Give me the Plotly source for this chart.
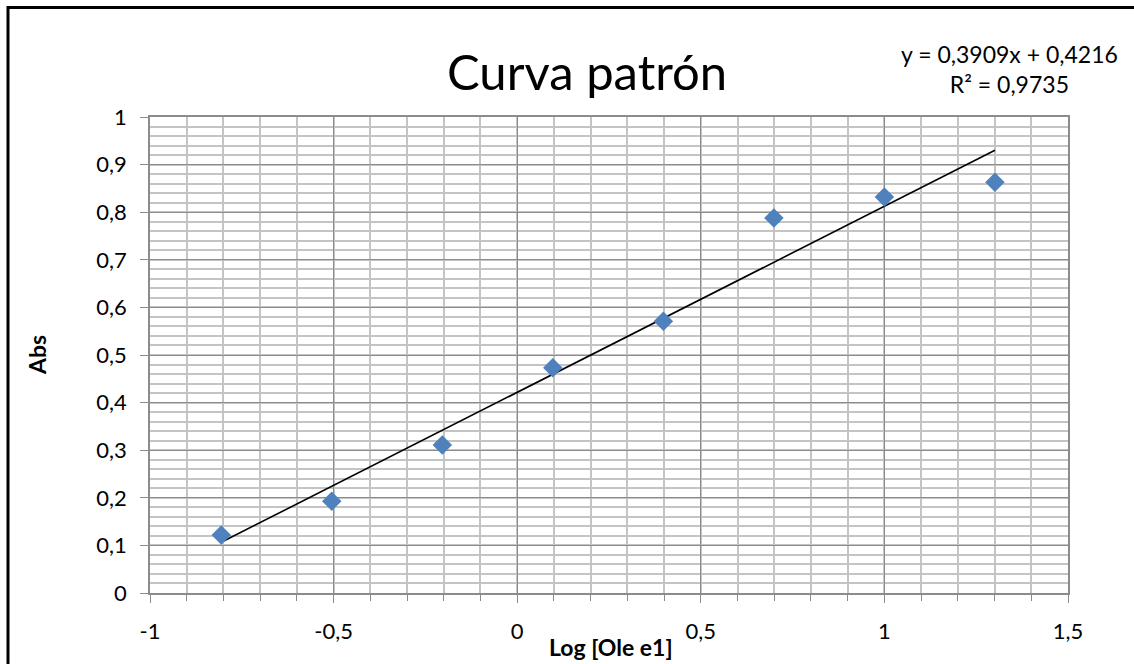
import numpy as np
import plotly.graph_objects as go

# Data
log_conc = [-0.806, -0.505, -0.204, 0.097, 0.398, 0.699, 1.000, 1.301]
absorb = [0.122, 0.193, 0.311, 0.473, 0.571, 0.788, 0.832, 0.863]
slope = 0.3909
intercept = 0.4216
r2 = 0.9735
title_text = "Curva patrón"
x_title = "Log [Ole e1]"
y_title = "Abs"
x_ticks = [-1, -0.5, 0, 0.5, 1, 1.5]
x_ticklabels = ["-1", "-0,5", "0", "0,5", "1", "1,5"]
y_ticks = [0, 0.1, 0.2, 0.3, 0.4, 0.5, 0.6, 0.7, 0.8, 0.9, 1]
y_ticklabels = ["0", "0,1", "0,2", "0,3", "0,4", "0,5", "0,6", "0,7", "0,8", "0,9", "1"]

FONT = "Lato, Carlito, Calibri, 'Open Sans', sans-serif"

trend_x = [min(log_conc), max(log_conc)]
trend_y = [slope * v + intercept for v in trend_x]

fig = go.Figure()
fig.add_trace(go.Scatter(
    x=trend_x, y=trend_y, mode="lines",
    line=dict(color="black", width=1.6), hoverinfo="skip", showlegend=False))
fig.add_trace(go.Scatter(
    x=log_conc, y=absorb, mode="markers",
    marker=dict(symbol="diamond", size=15, color="#4F81BD",
                line=dict(width=0)),
    showlegend=False))

fig.update_layout(
    width=1134, height=664,
    margin=dict(l=150, r=66, t=117, b=71),
    paper_bgcolor="white", plot_bgcolor="white",
    font=dict(family=FONT, color="black", size=22),
    xaxis=dict(
        range=[-1, 1.5], tickvals=x_ticks, ticktext=x_ticklabels,
        showgrid=True, gridcolor="#8C8C8C", gridwidth=1,
        minor=dict(dtick=0.1, tick0=0, showgrid=True, gridcolor="#C4C4C4",
                   gridwidth=1.5, ticks="outside", ticklen=6, tickcolor="#8C8C8C"),
        ticks="outside", ticklen=8, tickcolor="#8C8C8C",
        ticklabelstandoff=10,
        showline=True, linecolor="#8C8C8C", linewidth=1.5, mirror=True,
        zeroline=False, tickfont=dict(size=22, family=FONT),
    ),
    yaxis=dict(
        range=[0, 1], tickvals=y_ticks, ticktext=y_ticklabels,
        showgrid=True, gridcolor="#8C8C8C", gridwidth=1,
        minor=dict(dtick=0.02, tick0=0, showgrid=True, gridcolor="#C4C4C4",
                   gridwidth=1.5),
        ticks="outside", ticklen=8, tickcolor="#8C8C8C",
        ticklabelstandoff=9,
        showline=True, linecolor="#8C8C8C", linewidth=1.5, mirror=True,
        zeroline=False, tickfont=dict(size=22, family=FONT),
    ),
    annotations=[
        dict(text=title_text, x=587, y=71, xref="paper", yref="paper",
             showarrow=False, font=dict(size=49, family=FONT)),
        dict(text=f"y = {str(slope).replace('.', ',')}x + {str(intercept).replace('.', ',')}<br>R² = {str(r2).replace('.', ',')}",
             x=1009, y=69, showarrow=False, font=dict(size=23, family=FONT)),
        dict(text=f"<b>{x_title}</b>", x=611, y=647, showarrow=False,
             font=dict(size=23, family=FONT)),
        dict(text=f"<b>{y_title}</b>", x=37, y=355, showarrow=False, textangle=-90,
             font=dict(size=23, family=FONT)),
    ],
)

# convert pixel positions of annotations into paper coords
W, H = 1134, 664
L, R, T, B = 150, 66, 117, 71
pw, ph = W - L - R, H - T - B
for a in fig.layout.annotations:
    a.xref = "paper"; a.yref = "paper"
    px, py = a.x, a.y
    a.x = (px - L) / pw
    a.y = (H - B - py) / ph
    a.xanchor = "center"; a.yanchor = "middle"

# outer chart border (top and left visible)
fig.add_shape(type="line", xref="paper", yref="paper",
              x0=(8 - L) / pw, x1=(W + 5 - L) / pw,
              y0=(H - B - 7.5) / ph, y1=(H - B - 7.5) / ph,
              line=dict(color="black", width=3))
fig.add_shape(type="line", xref="paper", yref="paper",
              x0=(8 - L) / pw, x1=(8 - L) / pw,
              y0=(H - B - 6) / ph, y1=(H - B - H - 10) / ph,
              line=dict(color="black", width=3))

fig.write_html("out.html")
